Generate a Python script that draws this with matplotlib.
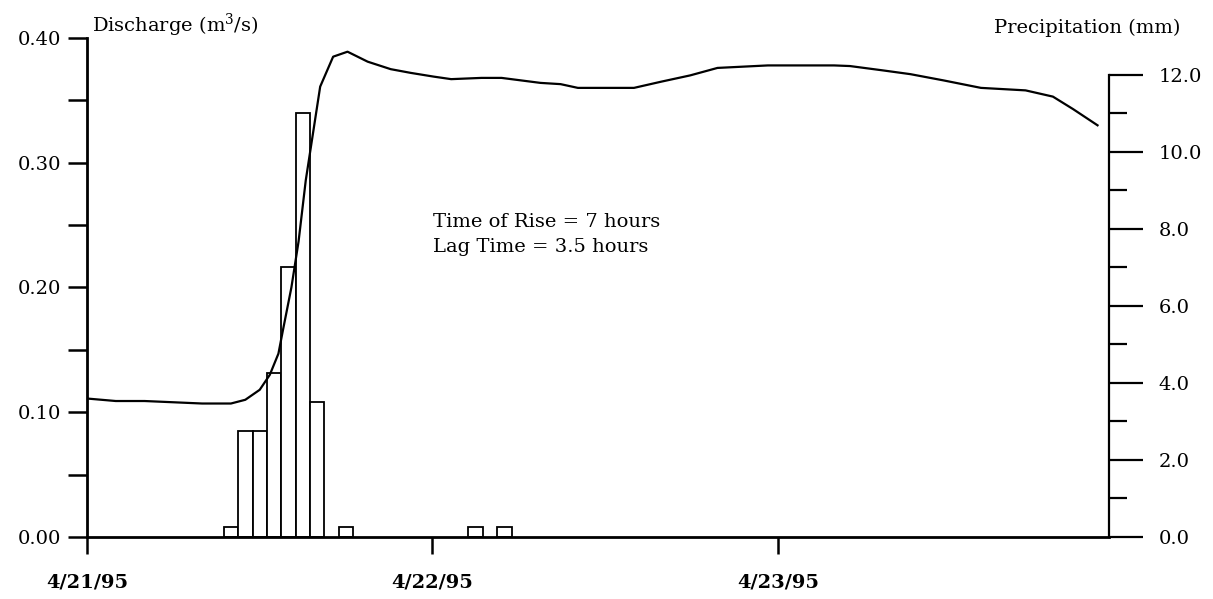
import matplotlib
matplotlib.use("Agg")
import matplotlib.pyplot as plt
from matplotlib.ticker import MultipleLocator, FixedLocator

# hours since 4/21/95 00:00
rain_hours = [10, 11, 12, 13, 14, 15, 16, 18, 27, 29]
rain_mm = [0.25, 2.75, 2.75, 4.25, 7.0, 11.0, 3.5, 0.25, 0.25, 0.25]

q_hours = [0, 2, 4, 6, 8, 10, 11, 12, 12.7, 13.3, 13.6, 14.2, 14.7, 15.2, 15.8,
           16.2, 17.1, 18.1, 19.5, 21.1, 22.5, 24.1, 25.3, 27.4, 28.8, 31.5, 32.9,
           34.1, 36, 38, 39.9, 41.9, 43.8, 47.3, 49.8, 51.9, 53, 55.3, 57.2, 59.5,
           62.1, 65.2, 67.1, 68.5, 70.2]
q_m3s = [0.111, 0.109, 0.109, 0.108, 0.107, 0.107, 0.110, 0.118, 0.130, 0.147, 0.165,
         0.200, 0.237, 0.286, 0.331, 0.361, 0.385, 0.389, 0.381, 0.375, 0.372, 0.369,
         0.367, 0.368, 0.368, 0.364, 0.363, 0.360, 0.360, 0.360, 0.365, 0.370, 0.376,
         0.378, 0.378, 0.378, 0.3775, 0.374, 0.371, 0.366, 0.360, 0.358, 0.353, 0.343,
         0.330]

date_ticks = [0, 24, 48]
date_labels = ["4/21/95", "4/22/95", "4/23/95"]
notes = ["Time of Rise = 7 hours", "Lag Time = 3.5 hours"]

plt.rcParams["font.family"] = ["DejaVu Serif"]
plt.rcParams["mathtext.fontset"] = "dejavuserif"
FS = 14

fig = plt.figure(figsize=(12.13, 5.99), dpi=100)
ax1 = fig.add_axes([0.0717, 0.1035, 0.9143 - 0.0717, 0.9366 - 0.1035])
ax2 = ax1.twinx()
ax1.set_zorder(ax2.get_zorder() + 1)
ax1.patch.set_visible(False)

ax2.bar(rain_hours, rain_mm, width=1.0, align="center", facecolor="white",
        edgecolor="black", linewidth=1.3)
ax1.plot(q_hours, q_m3s, color="black", lw=1.6)

ax1.set_xlim(0, 71)
ax1.set_ylim(0, 0.40)
ax2.set_ylim(0, 12.96)

for s in ["top", "right"]:
    ax1.spines[s].set_visible(False)
for s in ["top", "left", "bottom"]:
    ax2.spines[s].set_visible(False)
ax1.spines["left"].set_linewidth(2.0)
ax1.spines["bottom"].set_linewidth(2.0)
ax2.spines["right"].set_linewidth(1.6)
ax2.spines["right"].set_bounds(0, 12)

ax1.yaxis.set_major_locator(MultipleLocator(0.10))
ax1.yaxis.set_minor_locator(MultipleLocator(0.05))
ax1.set_yticks(ax1.get_yticks())
ax1.set_yticklabels([f"{v:.2f}" for v in ax1.get_yticks()])
ax1.set_ylim(0, 0.40)
ax1.tick_params(axis="y", which="both", direction="out", length=13.5, width=1.8,
                labelsize=FS, pad=5)

ax1.xaxis.set_major_locator(FixedLocator(date_ticks))
ax1.set_xticklabels(date_labels)
ax1.tick_params(axis="x", which="major", direction="out", length=12, width=1.8,
                labelsize=FS, pad=14)
for t in ax1.get_xticklabels():
    t.set_fontweight("bold")

ax2.yaxis.set_major_locator(FixedLocator([0, 2, 4, 6, 8, 10, 12]))
ax2.yaxis.set_minor_locator(FixedLocator([1, 3, 5, 7, 9, 11]))
ax2.set_yticklabels([f"{v:.1f}" for v in [0, 2, 4, 6, 8, 10, 12]])
ax2.tick_params(axis="y", which="major", direction="out", length=24.5, width=1.6,
                labelsize=FS, pad=11)
ax2.tick_params(axis="y", which="minor", direction="out", length=13, width=1.6)

fig.text(92 / 1213, 1 - 25 / 599, "Discharge (m$^3$/s)", fontsize=FS,
         ha="left", va="center")
fig.text(1180 / 1213, 1 - 28 / 599, "Precipitation (mm)", fontsize=FS,
         ha="right", va="center")
fig.text(433 / 1213, 1 - 222 / 599, notes[0], fontsize=FS, ha="left", va="center")
fig.text(433 / 1213, 1 - 247 / 599, notes[1], fontsize=FS, ha="left", va="center")

fig.savefig("out.png", dpi=100)
